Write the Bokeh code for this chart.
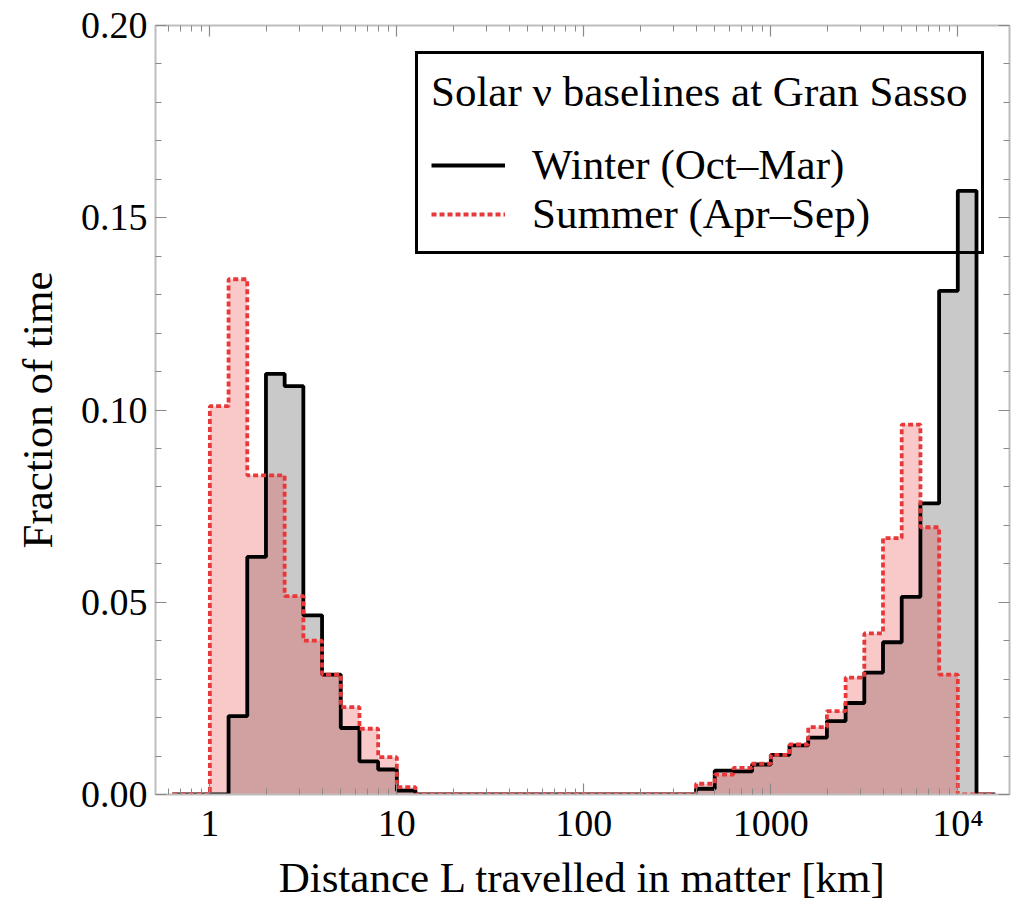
from bokeh.plotting import figure
from bokeh.models import (FixedTicker, LogAxis, LinearAxis, Legend, LegendItem,
                          PrintfTickFormatter, Range1d, ColumnDataSource)
from bokeh.embed import file_html
from bokeh.resources import INLINE

# ---------------- data ----------------
# histogram bin edges (log10 of distance in km), bin width 0.1 decade
LOG10_BIN_EDGES = [-0.2, -0.1, 0.0, 0.1, 0.2, 0.3, 0.4, 0.5, 0.6, 0.7, 0.8, 0.9,
                   1.0, 1.1, 1.2, 1.3, 1.4, 1.5, 1.6, 1.7, 1.8, 1.9, 2.0, 2.1,
                   2.2, 2.3, 2.4, 2.5, 2.6, 2.7, 2.8, 2.9, 3.0, 3.1, 3.2, 3.3,
                   3.4, 3.5, 3.6, 3.7, 3.8, 3.9, 4.0, 4.1, 4.2]

# fraction of time per bin (44 bins)
WINTER = [0.0, 0.0,
          0.0, 0.0204, 0.0618, 0.1094, 0.1062, 0.0466, 0.0312, 0.0173, 0.0086, 0.0065, 0.0010,
          0.0, 0.0, 0.0, 0.0, 0.0, 0.0, 0.0, 0.0, 0.0, 0.0, 0.0, 0.0, 0.0, 0.0, 0.0,
          0.0015, 0.0062, 0.0060, 0.0078, 0.0103, 0.0128, 0.0148, 0.0191, 0.0238,
          0.0317, 0.0396, 0.0514, 0.0757, 0.1310, 0.1570,
          0.0]
SUMMER = [0.0, 0.0,
          0.1010, 0.1340, 0.0830, 0.0830, 0.0516, 0.0400, 0.0312, 0.0227, 0.0171, 0.0097, 0.0019,
          0.0, 0.0, 0.0, 0.0, 0.0, 0.0, 0.0, 0.0, 0.0, 0.0, 0.0, 0.0, 0.0, 0.0, 0.0,
          0.0028, 0.0052, 0.0069, 0.0080, 0.0103, 0.0130, 0.0175, 0.0217, 0.0304,
          0.0419, 0.0667, 0.0962, 0.0695, 0.0312, 0.0,
          0.0]

X_TICKS = [1, 10, 100, 1000, 10000]
X_TICK_LABELS = ["1", "10", "100", "1000", "10\u2074"]
Y_TICKS = [0.0, 0.05, 0.10, 0.15, 0.20]

LEGEND_TITLE = "Solar \u03bd baselines at Gran Sasso"
WINTER_LABEL = "Winter (Oct\u2013Mar)"
SUMMER_LABEL = "Summer (Apr\u2013Sep)"

# ---------------- build ----------------
edges_km = [10 ** e for e in LOG10_BIN_EDGES]
src = ColumnDataSource(dict(
    x=edges_km,
    zero=[0.0] * len(edges_km),
    winter=WINTER + [0.0],
    summer=SUMMER + [0.0],
))

FONT = "Liberation Serif"
AXIS_GRAY = "#bdbdbd"
TICK_GRAY = "#8a8a8a"
RED = "#e8383a"

p = figure(width=1011, height=903, x_axis_type="log",
           x_range=Range1d(0.512, 18900), y_range=Range1d(0, 0.2),
           output_backend="svg", toolbar_location=None,
           min_border_left=155, min_border_right=2, min_border_top=25, min_border_bottom=109)
p.grid.visible = False
p.outline_line_color = None
p.background_fill_color = "white"
p.border_fill_color = "white"

# fills
p.varea_step(x="x", y1="zero", y2="winter", step_mode="after", source=src,
             fill_color="#000000", fill_alpha=0.21)
p.varea_step(x="x", y1="zero", y2="summer", step_mode="after", source=src,
             fill_color=RED, fill_alpha=0.27)
# outlines
w_line = p.step(x="x", y="winter", mode="after", source=src,
                line_color="black", line_width=3.8)
s_line = p.step(x="x", y="summer", mode="after", source=src,
                line_color=RED, line_width=3.8, line_dash="5 3")

# ticks
minor_x = [m * 10 ** k for k in range(-1, 5) for m in range(2, 10)]
minor_y = [i / 100 for i in range(0, 21)]


def style_axis(ax):
    ax.axis_line_color = AXIS_GRAY
    ax.axis_line_width = 2
    ax.major_tick_line_color = TICK_GRAY
    ax.minor_tick_line_color = TICK_GRAY
    ax.major_tick_line_width = 1.2
    ax.minor_tick_line_width = 1.0
    ax.major_tick_in = 11
    ax.major_tick_out = 0
    ax.minor_tick_in = 6
    ax.minor_tick_out = 0


xa = p.xaxis[0]
xa.ticker = FixedTicker(ticks=X_TICKS, minor_ticks=minor_x)
xa.major_label_overrides = {t: l for t, l in zip(X_TICKS, X_TICK_LABELS)}
style_axis(xa)
xa.major_label_text_font = FONT
xa.major_label_text_font_size = "38px"
xa.major_label_text_color = "black"
xa.major_label_standoff = 7
xa.axis_label = "Distance L travelled in matter [km]"
xa.axis_label_text_font = FONT
xa.axis_label_text_font_size = "43px"
xa.axis_label_text_font_style = "normal"
xa.axis_label_text_color = "black"
xa.axis_label_standoff = 7

ya = p.yaxis[0]
ya.ticker = FixedTicker(ticks=Y_TICKS, minor_ticks=minor_y)
ya.formatter = PrintfTickFormatter(format="%.2f")
style_axis(ya)
ya.major_label_text_font = FONT
ya.major_label_text_font_size = "38px"
ya.major_label_text_color = "black"
ya.major_label_standoff = 8
ya.axis_label = "Fraction of time"
ya.axis_label_text_font = FONT
ya.axis_label_text_font_size = "43px"
ya.axis_label_text_font_style = "normal"
ya.axis_label_text_color = "black"
ya.axis_label_standoff = 17

# mirrored frame axes (ticks only)
top = LogAxis(ticker=FixedTicker(ticks=X_TICKS, minor_ticks=minor_x),
              major_label_text_font_size="1px", major_label_text_color=None,
              major_label_standoff=0)
style_axis(top)
p.add_layout(top, "above")

right = LinearAxis(ticker=FixedTicker(ticks=Y_TICKS, minor_ticks=minor_y),
                   major_label_text_font_size="1px", major_label_text_color=None,
                   major_label_standoff=0)
style_axis(right)
p.add_layout(right, "right")

legend = Legend(
    items=[LegendItem(label=WINTER_LABEL, renderers=[w_line]),
           LegendItem(label=SUMMER_LABEL, renderers=[s_line])],
    title=LEGEND_TITLE,
    location=(260, 540),
)
legend.title_text_font = FONT
legend.title_text_font_size = "43px"
legend.title_text_font_style = "normal"
legend.title_text_color = "black"
legend.title_standoff = 24
legend.label_text_font = FONT
legend.label_text_font_size = "43px"
legend.label_text_color = "black"
legend.label_standoff = 27
legend.glyph_width = 74
legend.glyph_height = 30
legend.label_height = 30
legend.spacing = 0
legend.padding = 13
legend.margin = 0
legend.border_line_color = "black"
legend.border_line_alpha = 1.0
legend.border_line_width = 3.5
# transparent so the tallest bar shows through the box, as in the original
legend.background_fill_alpha = 0.0
p.add_layout(legend)

open("out.html", "w").write(file_html(p, INLINE))
